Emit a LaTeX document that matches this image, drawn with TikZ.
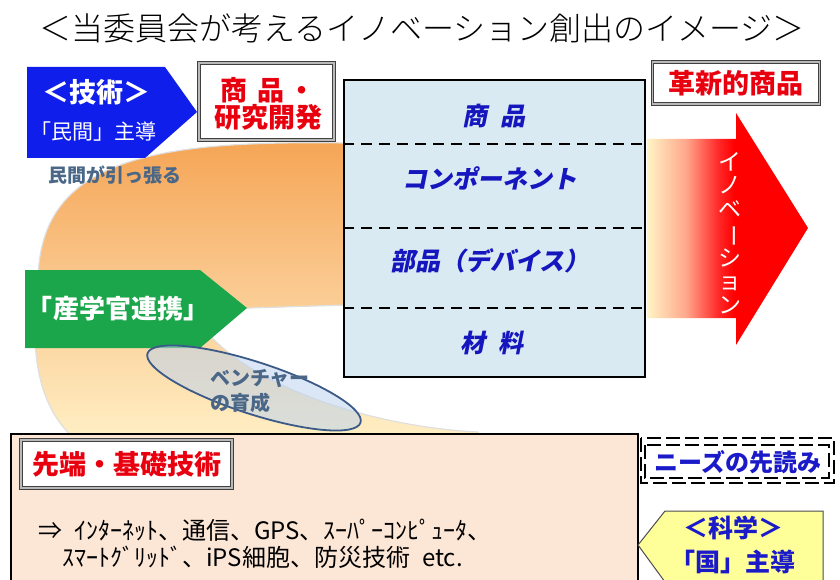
\documentclass[tikz,border=0pt]{standalone}
\usepackage{fontspec}
\usepackage{graphicx}
\setmainfont{Noto Sans CJK JP}
\newfontfamily\jpslant{Noto Sans CJK JP}[FakeSlant=0.2]
\IfFontExistsTF{Noto Sans CJK JP Light}{\newfontfamily\jplight{Noto Sans CJK JP Light}}{\newfontfamily\jplight{Noto Sans CJK JP}}
\usetikzlibrary{shapes.geometric}
\newcommand\fsz[2]{\fontsize{#1pt}{#2pt}\selectfont}
\definecolor{bandA}{HTML}{F5A555}
\definecolor{bandB}{HTML}{FAC88E}
\definecolor{bandC}{HTML}{FFF2C8}
\definecolor{innA}{HTML}{FFF4C6}
\definecolor{innB}{HTML}{FFA88C}
\definecolor{innC}{HTML}{FF2A2A}
\definecolor{techblue}{HTML}{0F1EEB}
\definecolor{sangreen}{HTML}{1CA64C}
\definecolor{boxblue}{HTML}{DAEAF3}
\definecolor{textblue}{HTML}{1616BE}
\definecolor{jpred}{HTML}{E8000F}
\definecolor{slateblue}{HTML}{4A6788}
\definecolor{ellfill}{HTML}{BED3EE}
\definecolor{ellline}{HTML}{3B5A88}
\definecolor{peach}{HTML}{FCE6D6}
\definecolor{paleyellow}{HTML}{FFFF99}
\definecolor{needblue}{HTML}{1A1AC8}
\pgfdeclareverticalshading{bandshade}{100bp}{color(0bp)=(bandC); color(25bp)=(bandC); color(52bp)=(bandB); color(75bp)=(bandA); color(100bp)=(bandA)}
\pgfdeclarehorizontalshading{innovshade}{100bp}{color(0bp)=(innA); color(25bp)=(innA); color(37bp)=(innB); color(47bp)=(innC); color(52bp)=(red); color(100bp)=(red)}
\begin{document}
\begin{tikzpicture}[x=1pt,y=-1pt,
  dbl/.style={draw=black!75, line width=0.8pt, double=gray!55, double distance=1.8pt, fill=white, inner sep=0},
  boxtxt/.style={text=textblue, font=\jpslant\fsz{25}{25}\bfseries},
  dashline/.style={draw=black, line width=1.6pt, dash pattern=on 11pt off 7pt},
  needdash/.style={draw=black, line width=1.6pt, dash pattern=on 14pt off 5pt}
]
\useasboundingbox (0,0) rectangle (840,580);
\clip (0,0) rectangle (840,580);

% title
\node[font=\jplight\fsz{32}{32}] (title) at (422,28) {＜当委員会が考えるイノベーション創出のイメージ＞};

% orange band
\path[shading=bandshade, draw=gray!25, line width=1.2pt]
  (346,143) .. controls (150,140) and (40,160) .. (38,280)
  .. controls (28,360) and (40,420) .. (90,450)
  -- (480,450) -- (478,432)
  .. controls (390,428) and (260,395) .. (205,330)
  .. controls (215,312) .. (250,308)
  -- (346,305) -- cycle;

% innovation arrow
\path[shading=innovshade] (647,139) -- (736,139) -- (736,113) -- (808,228)
  -- (736,345) -- (736,318) -- (647,318) -- cycle;
\node[text=white, font=\fsz{23}{23.5}, align=center, inner sep=0] (innovtext) at (730,233)
  {イ\\ノ\\ベ\\\rotatebox[origin=c]{-90}{ー}\\シ\\ョ\\ン};

% main layered box
\node[draw=black, line width=1.8pt, fill=boxblue, minimum width=301pt, minimum height=297pt, inner sep=0] (layers) at (494.5,228.5) {};
\draw[dashline] (layers.west |- 0,144) -- (layers.east |- 0,144);
\draw[dashline] (layers.west |- 0,228) -- (layers.east |- 0,228);
\draw[dashline] (layers.west |- 0,308) -- (layers.east |- 0,308);
\node[boxtxt] (lay1) at (494,116) {商\hspace{0.5em}品};
\node[boxtxt] (lay2) at (490,178) {コンポーネント};
\node[boxtxt] (lay3) at (490,261) {部品（デバイス）};
\node[boxtxt] (lay4) at (492,343) {材\hspace{0.5em}料};

% blue pentagon
\path[fill=techblue] (27,67) -- (165,67) -- (197,112) -- (145,158) -- (27,158) -- cycle;
\node[text=white, font=\fsz{27}{27}\bfseries] (techA) at (96,92) {＜技術＞};
\node[text=white, font=\fsz{21}{21}] (techB) at (93,132) {「民間」主導};
\node[text=slateblue, font=\fsz{19}{19}\bfseries] (pull) at (115,175) {民間が引っ張る};

% R&D box
\node[dbl, minimum width=135pt, minimum height=77pt] (rd) at (266.5,101.5) {};
\node[align=center, text=jpred, font=\fsz{27}{27}\bfseries] (rdtext) at (268,104) {商\hspace{0.35em}品\hspace{0.15em}・\\研究開発};

% new product box
\node[dbl, minimum width=167pt, minimum height=42pt, text=jpred, font=\fsz{27}{27}\bfseries] (newprod) at (736,83) {革新的商品};

% green pentagon
\path[fill=sangreen] (25,270) -- (200,270) -- (247,308) -- (200,348) -- (25,348) -- cycle;
\node[text=white, font=\fsz{26}{26}\bfseries] (sangaku) at (118,309) {「産学官連携」};

% venture ellipse
\node[ellipse, draw=ellline, line width=1.8pt, fill=ellfill, fill opacity=0.55, minimum width=224pt, minimum height=52pt, rotate=-18, inner sep=0] (vent) at (254,388) {};
\node[text=slateblue, font=\fsz{20}{25}\bfseries, align=left] (venttext) at (260,391) {ベンチャー\\の育成};

% bottom box
\node[draw=black, line width=1.8pt, fill=peach, minimum width=627pt, minimum height=160pt, inner sep=0, anchor=north west] (techbox) at (10,433) {};
\node[dbl, minimum width=211pt, minimum height=48pt, text=jpred, font=\fsz{27}{27}\bfseries] (basic) at (126.5,464) {先端・基礎技術};
\node[anchor=west, inner sep=0, font=\fsz{24}{24}] (ex1) at (38,530) {⇒\hspace{12pt}ｲﾝﾀｰﾈｯﾄ、通信、GPS、ｽｰﾊﾟｰｺﾝﾋﾟｭｰﾀ、};
\node[anchor=west, inner sep=0, font=\fsz{24}{24}] (ex2) at (62,557) {ｽﾏｰﾄｸﾞﾘｯﾄﾞ、iPS細胞、防災技術\hspace{12pt}etc.};

% needs box
\node[font=\fsz{24}{24}\bfseries, text=needblue] (needs) at (738,462) {ニーズの先読み};
\draw[needdash] (641,438) rectangle (834,483);
\draw[needdash] (645,445) rectangle (829,478);

% science pentagon
\path[fill=paleyellow, draw=black!70, line width=1pt] (823,590) -- (823,511) -- (665,511) -- (638,545) -- (665,582) -- (665,590);
\node[text=needblue, font=\fsz{25}{25}\bfseries] (sci1) at (733,528) {＜科学＞};
\node[text=needblue, font=\fsz{25}{25}\bfseries] (sci2) at (733,562) {「国」主導};
\end{tikzpicture}
\end{document}
